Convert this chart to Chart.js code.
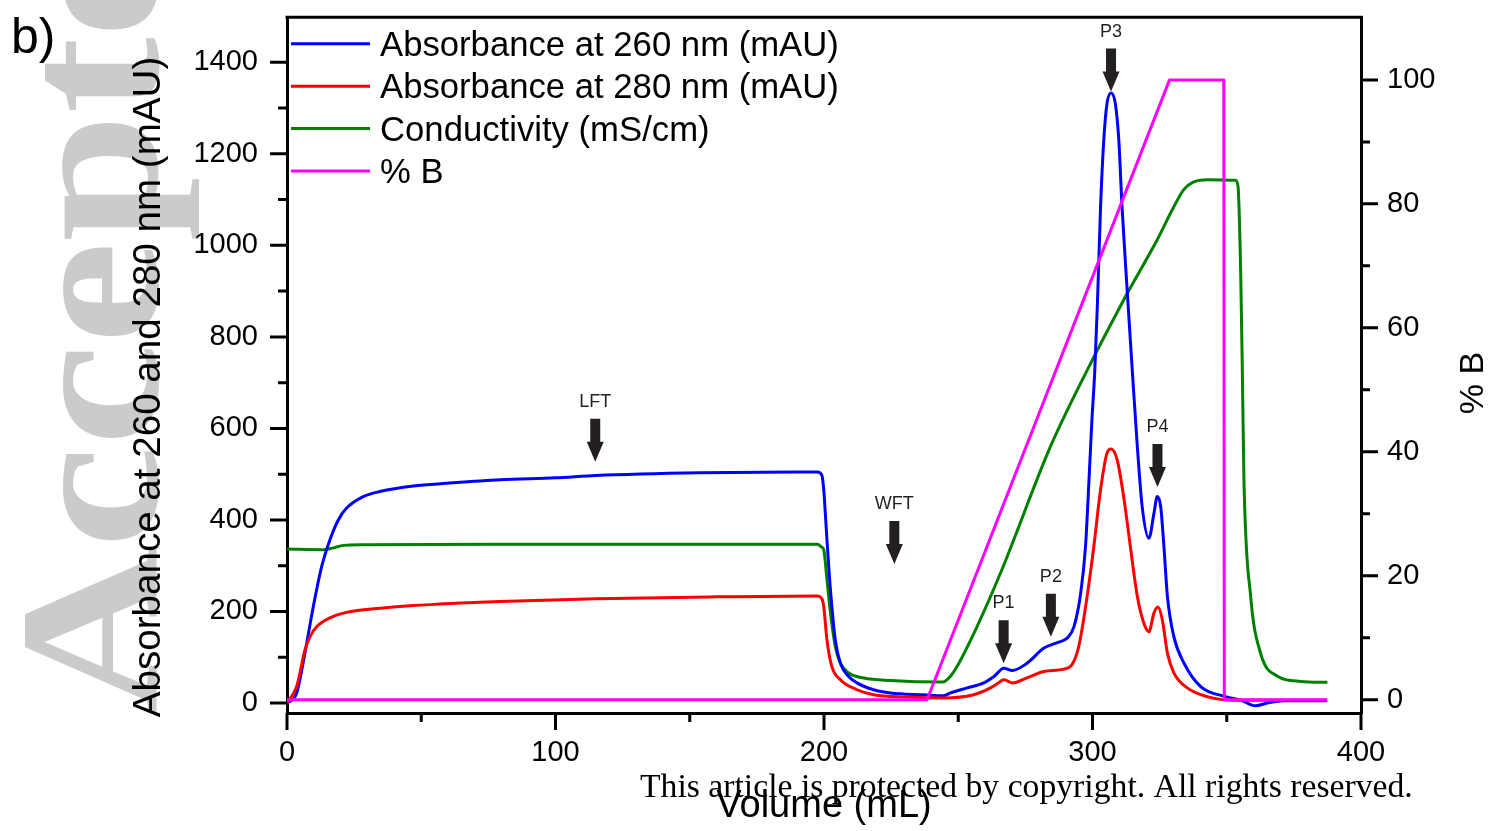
<!DOCTYPE html>
<html>
<head>
<meta charset="utf-8">
<script src="https://cdn.jsdelivr.net/npm/chart.js@4/dist/chart.umd.min.js"></script>
<style>
  html, body { margin: 0; padding: 0; background: #ffffff; }
  canvas { display: block; }
</style>
</head>
<body>
<canvas id="chart" width="1507" height="831"></canvas>
<script>
// ---------------- data ----------------
const a260Vol = [0, 3.6, 6.7, 9.8, 12.9, 16.0, 19.1, 22.2, 28.4, 34.6, 47.1, 59.5, 79.4, 100, 115, 154, 190, 197.5, 199.2, 199.9, 201.1, 202.4, 204.2, 206.1, 209.2, 212.3, 218.5, 224.7, 237.2, 244.6, 247.1, 253.3, 259.5, 263.3, 267.0, 270.1, 275.6, 281.9, 286.9, 290.6, 293.1, 295.6, 297.4, 298.7, 299.8, 300.8, 301.8, 303.0, 304.2, 305.4, 306.9, 308.5, 309.8, 311.0, 312.9, 314.8, 316.7, 318.5, 321.0, 322.9, 324.1, 325.4, 326.6, 327.9, 330.3, 334.1, 340.3, 349.6, 355.2, 360.8, 365.1, 371.3, 387.4];
const a260Val = [0, 22, 110, 211, 298, 357, 400, 426, 451, 462, 474, 480, 488, 492, 497, 503, 505, 505, 498, 466, 357, 247, 138, 87, 58, 44, 29, 22, 18, 16, 22, 33, 44, 58, 76, 71, 87, 120, 132, 142, 167, 240, 342, 488, 620, 720, 866, 1084, 1230, 1310, 1333, 1310, 1230, 1084, 903, 728, 560, 429, 360, 415, 451, 429, 342, 233, 145, 87, 36, 14, 6, -6, 0, 5, 5];

const a280Vol = [0, 3.6, 6.7, 8.6, 11.1, 16.0, 22.2, 34.7, 47.1, 79.4, 115, 160, 197.5, 199.2, 199.9, 201.1, 202.9, 206.1, 212.3, 218.5, 230.9, 244.6, 255.7, 262.0, 265.7, 267.0, 270.1, 275.6, 281.9, 289.3, 292.4, 294.9, 298.0, 300.5, 303.0, 305.4, 306.9, 309.2, 311.6, 314.1, 316.7, 319.1, 321.0, 322.9, 324.4, 326.0, 327.9, 330.3, 335.3, 342.7, 352.7, 387.4];
const a280Val = [0, 36, 116, 145, 167, 186, 198, 207, 213, 222, 228, 232, 234, 228, 211, 138, 80, 51, 29, 18, 13, 11, 18, 33, 47, 51, 44, 55, 69, 74, 84, 124, 233, 342, 466, 546, 555, 531, 451, 342, 233, 175, 156, 197, 210, 182, 109, 66, 33, 14, 6, 6];

const condVol = [0, 13.5, 17.3, 21.0, 28.4, 79.4, 197.5, 199.2, 199.9, 201.1, 202.4, 204.2, 206.1, 209.2, 214.8, 224.7, 244.3, 247.1, 249.6, 257.0, 265.7, 284.4, 296.2, 311.6, 324.1, 330.0, 334.0, 337.5, 342.7, 353.3, 354.2, 355.2, 355.8, 356.4, 358.9, 362.6, 368.9, 377.6, 387.5];
const condVal = [24.3, 24.2, 24.5, 24.9, 25.0, 25.1, 25.1, 24.6, 24.2, 19.4, 14.0, 8.6, 5.9, 4.3, 3.5, 3.1, 2.85, 3.8, 5.4, 11.8, 20.4, 40.9, 51.6, 64.5, 74.2, 79.3, 82.3, 83.5, 83.9, 83.8, 82.8, 68.8, 53.2, 35.5, 16.7, 7.5, 3.8, 2.95, 2.8];

const pctBVol = [0, 238.4, 328.7, 348.9, 349.1, 387.4];
const pctBVal = [0, 0, 100, 100, 0, 0];

// axis ticks
const xMajor = [0, 100, 200, 300, 400];
const xMinor = [50, 150, 250, 350];
const leftMajor = [0, 200, 400, 600, 800, 1000, 1200, 1400];
const leftMinor = [100, 300, 500, 700, 900, 1100, 1300];
const rightMajor = [0, 20, 40, 60, 80, 100];
const rightMinor = [10, 30, 50, 70, 90];

// peak markers (arrow tip at volume / absorbance)
const markerLabels = ['LFT', 'WFT', 'P1', 'P2', 'P3', 'P4'];
const markerVol = [114.8, 226.2, 266.9, 284.5, 306.9, 324.2];
const markerAbs = [527, 304, 87, 145, 1336, 472];

const seriesLabels = ['Absorbance at 260 nm (mAU)', 'Absorbance at 280 nm (mAU)', 'Conductivity (mS/cm)', '% B'];
const seriesColors = ['#0000ff', '#ff0000', '#008000', '#ff00ff'];

// ---------------- build ----------------
const toPts = (xs, ys) => xs.map((x, i) => ({ x: x, y: ys[i] }));
const SANS = '"Liberation Sans", Arial, sans-serif';
const SERIF = '"Liberation Serif", "Times New Roman", serif';

function setTicks(major, minor) {
  return function (scale) {
    scale.ticks = major.concat(minor).sort((a, b) => a - b).map(v => ({ value: v }));
  };
}
function labelMajor(major) {
  return function (value) { return major.includes(value) ? String(value) : ''; };
}
function fixBox(prop, size) {
  return function (scale) {
    scale[prop] = size;
    scale.paddingTop = 0; scale.paddingBottom = 0;
    scale.paddingLeft = 0; scale.paddingRight = 0;
  };
}

const backgroundPlugin = {
  id: 'background',
  beforeDraw(chart) {
    const ctx = chart.ctx;
    ctx.save();
    ctx.fillStyle = '#ffffff';
    ctx.fillRect(0, 0, chart.width, chart.height);
    // "Accepted Article" watermark
    ctx.translate(157, 714);
    ctx.rotate(-Math.PI / 2);
    ctx.scale(1.15, 1);
    ctx.font = 'bold 200px ' + SERIF;
    ctx.fillStyle = '#cbcbcb';
    ctx.textBaseline = 'alphabetic';
    ctx.textAlign = 'left';
    ctx.fillText('Accepted Article', 0, 0);
    ctx.restore();
  }
};

const decorPlugin = {
  id: 'decor',
  afterDatasetsDraw(chart) {
    const ctx = chart.ctx;
    const ca = chart.chartArea;
    const xs = chart.scales.x, ys = chart.scales.y, y2 = chart.scales.y2;
    ctx.save();
    // ticks and top frame
    ctx.strokeStyle = '#000000';
    ctx.lineWidth = 3;
    ctx.lineCap = 'butt';
    ctx.beginPath();
    xMajor.forEach(v => { const p = xs.getPixelForValue(v); ctx.moveTo(p, ca.bottom); ctx.lineTo(p, ca.bottom + 17); });
    xMinor.forEach(v => { const p = xs.getPixelForValue(v); ctx.moveTo(p, ca.bottom); ctx.lineTo(p, ca.bottom + 9); });
    leftMajor.forEach(v => { const p = ys.getPixelForValue(v); ctx.moveTo(ca.left, p); ctx.lineTo(ca.left - 17, p); });
    leftMinor.forEach(v => { const p = ys.getPixelForValue(v); ctx.moveTo(ca.left, p); ctx.lineTo(ca.left - 9, p); });
    rightMajor.forEach(v => { const p = y2.getPixelForValue(v); ctx.moveTo(ca.right, p); ctx.lineTo(ca.right + 17, p); });
    rightMinor.forEach(v => { const p = y2.getPixelForValue(v); ctx.moveTo(ca.right, p); ctx.lineTo(ca.right + 9, p); });
    ctx.moveTo(ca.left - 1.5, ca.top);
    ctx.lineTo(ca.right + 1.5, ca.top);
    ctx.stroke();

    // legend
    const rowY0 = ca.top + 26.5, rowStep = 42.4;
    chart.data.datasets.forEach((ds, i) => {
      const yy = rowY0 + i * rowStep;
      ctx.strokeStyle = ds.borderColor;
      ctx.lineWidth = 3;
      ctx.beginPath();
      ctx.moveTo(ca.left + 4, yy);
      ctx.lineTo(ca.left + 83, yy);
      ctx.stroke();
      ctx.fillStyle = '#000000';
      ctx.font = '34.7px ' + SANS;
      ctx.textAlign = 'left';
      ctx.textBaseline = 'alphabetic';
      ctx.fillText(ds.label, ca.left + 93, yy + 12);
    });

    // peak arrows
    ctx.fillStyle = '#231f20';
    markerLabels.forEach((lab, i) => {
      const px = xs.getPixelForValue(markerVol[i]);
      const tip = ys.getPixelForValue(markerAbs[i]);
      const headTop = tip - 20, shaftTop = tip - 43;
      ctx.beginPath();
      ctx.moveTo(px - 5, shaftTop);
      ctx.lineTo(px + 5, shaftTop);
      ctx.lineTo(px + 5, headTop);
      ctx.lineTo(px + 8.5, headTop);
      ctx.lineTo(px, tip);
      ctx.lineTo(px - 8.5, headTop);
      ctx.lineTo(px - 5, headTop);
      ctx.closePath();
      ctx.fill();
      ctx.font = '18px ' + SANS;
      ctx.textAlign = 'center';
      ctx.textBaseline = 'alphabetic';
      ctx.fillText(lab, px, shaftTop - 12);
    });
    ctx.restore();
  },
  afterDraw(chart) {
    const ctx = chart.ctx;
    ctx.save();
    ctx.fillStyle = '#000000';
    // left axis title
    ctx.save();
    ctx.translate(160, 387);
    ctx.rotate(-Math.PI / 2);
    ctx.font = '38.6px ' + SANS;
    ctx.textAlign = 'center';
    ctx.textBaseline = 'alphabetic';
    ctx.fillText('Absorbance at 260 and 280 nm (mAU)', 0, 0);
    ctx.restore();
    // right axis title
    ctx.save();
    ctx.translate(1483, 383);
    ctx.rotate(-Math.PI / 2);
    ctx.font = '34px ' + SANS;
    ctx.textAlign = 'center';
    ctx.textBaseline = 'alphabetic';
    ctx.fillText('% B', 0, 0);
    ctx.restore();
    // panel label
    ctx.font = '50px ' + SANS;
    ctx.textAlign = 'left';
    ctx.textBaseline = 'alphabetic';
    ctx.fillText('b)', 11, 53);
    // copyright line
    ctx.font = '33.7px ' + SERIF;
    ctx.fillText('This article is protected by copyright. All rights reserved.', 640, 797);
    ctx.restore();
  }
};

const tickFont = { family: SANS, size: 29 };

new Chart(document.getElementById('chart'), {
  type: 'line',
  data: {
    datasets: [
      { label: seriesLabels[0], data: toPts(a260Vol, a260Val), borderColor: seriesColors[0], yAxisID: 'y', order: 2 },
      { label: seriesLabels[1], data: toPts(a280Vol, a280Val), borderColor: seriesColors[1], yAxisID: 'y', order: 1 },
      { label: seriesLabels[2], data: toPts(condVol, condVal), borderColor: seriesColors[2], yAxisID: 'y2', order: 3 },
      { label: seriesLabels[3], data: toPts(pctBVol, pctBVal), borderColor: seriesColors[3], yAxisID: 'y2', order: 0, cubicInterpolationMode: 'default', tension: 0 }
    ]
  },
  options: {
    responsive: false,
    animation: false,
    devicePixelRatio: 1,
    layout: { padding: { top: 17.3, left: 0, right: 0, bottom: 0 } },
    elements: {
      point: { radius: 0, hoverRadius: 0 },
      line: { borderWidth: 3, cubicInterpolationMode: 'monotone', borderJoinStyle: 'round', fill: false }
    },
    plugins: { legend: { display: false }, tooltip: { enabled: false } },
    scales: {
      x: {
        type: 'linear', position: 'bottom', min: 0, max: 400,
        afterBuildTicks: setTicks(xMajor, xMinor),
        afterFit: fixBox('height', 118),
        ticks: { callback: labelMajor(xMajor), font: tickFont, color: '#000', padding: 6, maxRotation: 0, autoSkip: false },
        grid: { display: true, drawOnChartArea: false, drawTicks: true, tickLength: 17, tickColor: 'rgba(0,0,0,0)' },
        border: { display: true, color: '#000', width: 3 },
        title: { display: true, text: 'Volume (mL)', color: '#000', font: { family: SANS, size: 38 }, padding: { top: 0, bottom: 1.4 } }
      },
      y: {
        type: 'linear', position: 'left', min: -21.8, max: 1498.3,
        afterBuildTicks: setTicks(leftMajor, leftMinor),
        afterFit: fixBox('width', 287),
        ticks: { callback: labelMajor(leftMajor), font: tickFont, color: '#000', padding: 12, autoSkip: false },
        grid: { display: true, drawOnChartArea: false, drawTicks: true, tickLength: 17, tickColor: 'rgba(0,0,0,0)' },
        border: { display: true, color: '#000', width: 3 }
      },
      y2: {
        type: 'linear', position: 'right', min: -2.145, max: 110.1,
        afterBuildTicks: setTicks(rightMajor, rightMinor),
        afterFit: fixBox('width', 146),
        ticks: { callback: labelMajor(rightMajor), font: tickFont, color: '#000', padding: 9, autoSkip: false },
        grid: { display: true, drawOnChartArea: false, drawTicks: true, tickLength: 17, tickColor: 'rgba(0,0,0,0)' },
        border: { display: true, color: '#000', width: 3 }
      }
    }
  },
  plugins: [backgroundPlugin, decorPlugin]
});
</script>
</body>
</html>
